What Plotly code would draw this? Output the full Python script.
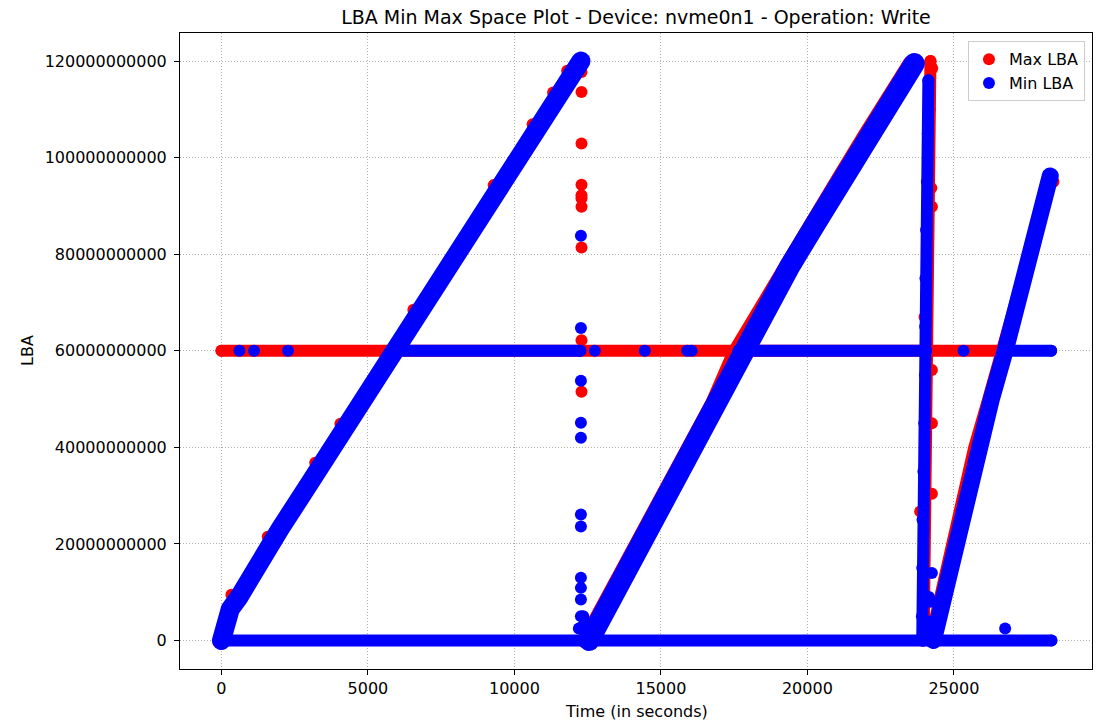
import plotly.graph_objects as go

# ---------------- data (time in s, LBA) ----------------
x_ticks = [0, 5000, 10000, 15000, 20000, 25000]
y_ticks = [0, 20000000000, 40000000000, 60000000000, 80000000000, 100000000000, 120000000000]
y_tick_labels = [str(v) for v in y_ticks]

# ---- Max LBA (red) ----
max_flat_t = [0, 26800]
max_flat_lba = [60e9, 60e9]

max_ramp2_t = [12420, 12780, 13380, 14280, 15130, 15980, 16780, 17530, 18380, 19280, 20180, 21080, 21980, 22780, 23530]
max_ramp2_lba = [0, 4e9, 11.5e9, 21e9, 30e9, 39.5e9, 49e9, 59.5e9, 68.5e9, 77.5e9, 86.5e9, 95.5e9, 104.5e9, 112.5e9, 119.5e9]

max_ramp3_t = [24230, 24490, 24780, 25080, 25410, 25730, 26210, 26680, 27130, 27630, 27930, 28230]
max_ramp3_lba = [0, 7e9, 14.5e9, 22.5e9, 31.5e9, 40e9, 50e9, 60e9, 70.5e9, 80e9, 87e9, 95.5e9]

max_col_t = [24200, 24180, 24130, 24090, 24060, 24040, 24010, 23980, 23960, 23970]
max_col_lba = [120e9, 110e9, 95e9, 80e9, 65e9, 55e9, 40e9, 25e9, 10e9, 0]

max_dots_t = [12290, 12290, 12290, 12290, 12290, 12290, 12290, 12290, 12290, 12290, 12290,
              340, 1580, 3200, 4060, 6550, 9290, 10620, 11320, 11800,
              24230, 24250, 24000, 24250, 24250, 24250, 23850, 24260, 28400]
max_dots_lba = [120e9, 117.7e9, 113.6e9, 102.9e9, 94.4e9, 92.2e9, 91.6e9, 89.8e9, 81.4e9, 62.2e9, 51.5e9,
                9.5e9, 21.5e9, 36.8e9, 44.9e9, 68.5e9, 94.3e9, 106.9e9, 113.5e9, 118e9,
                93.7e9, 89.8e9, 67e9, 56e9, 45e9, 30.4e9, 26.7e9, 118.5e9, 95e9]

# ---- Min LBA (blue) ----
min_zero_t = [0, 28330]
min_zero_lba = [0, 0]

min_flat_t = [5900, 12250, None, 17650, 24050, None, 26750, 28320]
min_flat_lba = [60e9, 60e9, None, 60e9, 60e9, None, 60e9, 60e9]

min_ramp1_t = [0, 150, 300, 600, 1000, 2000, 3000, 4000, 5000, 6000, 7000, 8000, 9000, 10000, 11000, 12000, 12270]
min_ramp1_lba = [0, 3.5e9, 6.5e9, 9e9, 13.4e9, 23.1e9, 32.5e9, 42e9, 51.4e9, 60.9e9, 70.3e9, 79.8e9, 89.2e9, 98.7e9, 108.1e9, 117.5e9, 120e9]

min_ramp2_t = [12550, 12900, 13500, 14400, 15250, 16100, 16900, 17650, 18500, 19400, 20300, 21200, 22100, 22900, 23650]
min_ramp2_lba = [0, 4e9, 11.5e9, 21e9, 30e9, 39.5e9, 49e9, 59.5e9, 68.5e9, 77.5e9, 86.5e9, 95.5e9, 104.5e9, 112.5e9, 119.5e9]

min_ramp3_t = [24300, 24560, 24850, 25150, 25480, 25800, 26280, 26750, 27200, 27700, 28000, 28290]
min_ramp3_lba = [0, 7e9, 14.5e9, 22.5e9, 31.5e9, 40e9, 50e9, 60e9, 70.5e9, 80e9, 87e9, 96.2e9]

min_col_t = [24130, 24110, 24080, 24050, 24030, 24020, 24010, 23990, 23960, 23930, 23920, 23910, 23920]
min_col_lba = [116e9, 105e9, 95e9, 85e9, 75e9, 65e9, 55e9, 45e9, 35e9, 25e9, 15e9, 5e9, 0]

min_dots_t = [12270, 12270, 12270, 12270, 12270, 12270, 12270, 12270, 12270, 12270, 12270, 12270,
              12200, 12350, 12500, 12650, 12400,
              613, 1114, 2272, 12745, 14450, 15900, 16050, 25330,
              24100, 24200, 24250, 24150, 24050, 26750]
min_dots_lba = [83.8e9, 64.7e9, 53.8e9, 45.1e9, 42.0e9, 26.1e9, 23.6e9, 13.0e9, 10.9e9, 8.5e9, 5.0e9, 2.7e9,
                2.5e9, 5e9, 3.5e9, 1.5e9, 1e9,
                60e9, 60e9, 60e9, 60e9, 60e9, 60e9, 60e9, 60e9,
                4e9, 8e9, 14e9, 9e9, 2e9, 2.5e9]

# ---------------------------------------------------------------------------
RED = "#ff0000"
BLUE = "#0000ff"
MS = 12

fig = go.Figure()


def add_line(t, v, color, width, group, markers=True):
    fig.add_trace(go.Scatter(
        x=t, y=v, mode="lines+markers" if markers else "lines",
        line=dict(color=color, width=width),
        marker=dict(color=color, size=MS),
        legendgroup=group, showlegend=False, hoverinfo="skip"))


# red (Max LBA) first, blue drawn on top
add_line(max_flat_t, max_flat_lba, RED, MS, "max")
add_line(max_ramp2_t, max_ramp2_lba, RED, 16, "max", markers=False)
add_line(max_ramp3_t, max_ramp3_lba, RED, 14, "max", markers=False)
add_line(max_col_t, max_col_lba, RED, MS, "max")
fig.add_trace(go.Scatter(x=max_dots_t, y=max_dots_lba, mode="markers", name="Max LBA",
                         marker=dict(color=RED, size=MS), legendgroup="max"))

add_line(min_zero_t, min_zero_lba, BLUE, MS, "min")
add_line(min_flat_t, min_flat_lba, BLUE, MS, "min")
add_line(min_ramp1_t, min_ramp1_lba, BLUE, 19, "min", markers=False)
add_line(min_ramp2_t, min_ramp2_lba, BLUE, 21, "min", markers=False)
add_line(min_ramp3_t, min_ramp3_lba, BLUE, 17, "min", markers=False)
add_line(min_col_t, min_col_lba, BLUE, MS, "min")
fig.add_trace(go.Scatter(x=min_dots_t, y=min_dots_lba, mode="markers", name="Min LBA",
                         marker=dict(color=BLUE, size=MS), legendgroup="min"))

FONT = "DejaVu Sans"
axis_common = dict(showline=True, mirror=True, linecolor="black", linewidth=1,
                   ticks="outside", ticklen=5, tickwidth=1, tickcolor="black",
                   showgrid=True, gridcolor="#b0b0b0", gridwidth=1, griddash="1px,2px",
                   zeroline=False, tickfont=dict(family=FONT, size=16, color="black"))

fig.update_layout(
    width=1107, height=721,
    margin=dict(l=180, r=15, t=33, b=52),
    paper_bgcolor="white", plot_bgcolor="white",
    font=dict(family=FONT, size=16, color="black"),
    title=dict(text="LBA Min Max Space Plot - Device: nvme0n1 - Operation: Write",
               x=0.5, xref="paper", xanchor="center",
               y=1 - 17 / 721, yref="container", yanchor="middle",
               font=dict(family=FONT, size=19, color="black")),
    xaxis=dict(range=[-1415, 29715], tickvals=x_ticks,
               ticktext=[str(v) for v in x_ticks], **axis_common),
    yaxis=dict(range=[-5.9e9, 125.8e9], tickvals=y_ticks, ticktext=y_tick_labels,
               ticklabelstandoff=4, **axis_common),
    legend=dict(x=0.9923, y=0.987, xanchor="right", yanchor="top",
                bgcolor="rgba(255,255,255,0.8)", bordercolor="#cccccc", borderwidth=1,
                tracegroupgap=0,
                font=dict(family=FONT, size=16, color="black")),
    annotations=[
        dict(text="LBA", xref="paper", yref="paper", x=(27 - 180) / 912, y=0.5,
             textangle=-90, showarrow=False, xanchor="center", yanchor="middle",
             font=dict(family=FONT, size=16, color="black")),
        dict(text="Time (in seconds)", xref="paper", yref="paper", x=0.5, y=(669 - 711) / 636,
             showarrow=False, xanchor="center", yanchor="middle",
             font=dict(family=FONT, size=16, color="black")),
    ],
)

post = """
document.body.style.margin = '0';
document.querySelectorAll('.scatterlayer path.js-line').forEach(function(p){
  p.style.strokeLinecap = 'round'; p.style.strokeLinejoin = 'round';
});
"""
fig.write_html("out.html", config={"displayModeBar": False}, post_script=post)
